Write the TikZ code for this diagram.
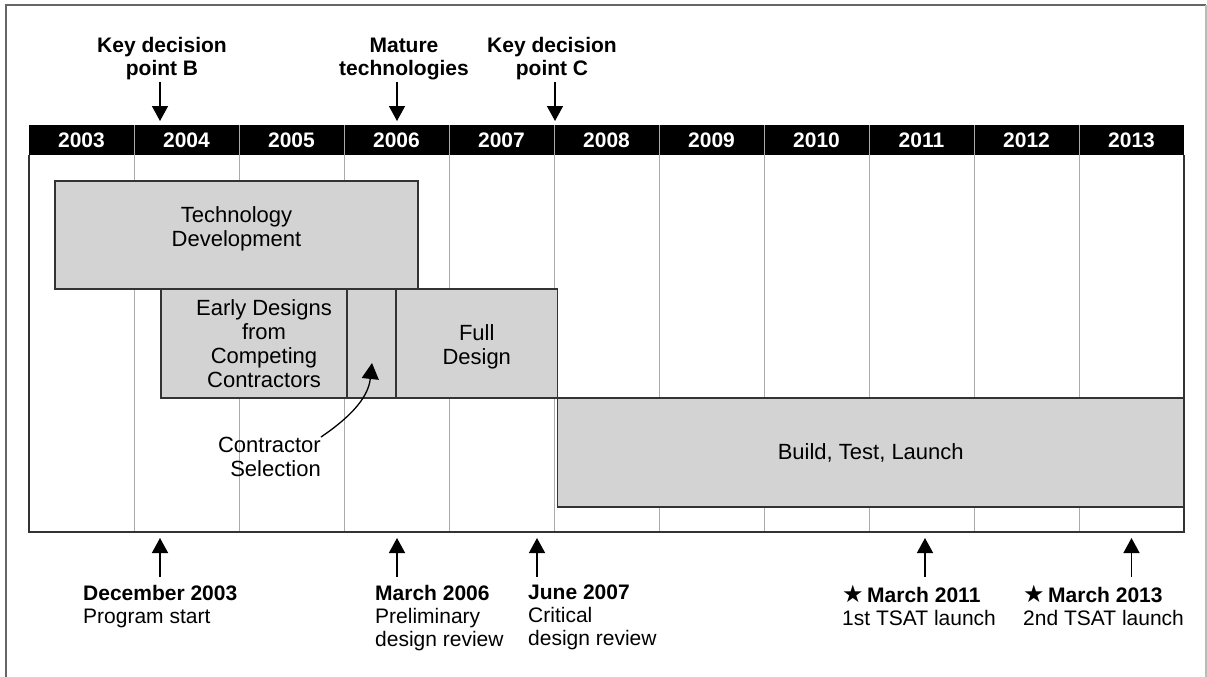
\documentclass[tikz,border=0pt]{standalone}
\usepackage{fontspec}
\setmainfont{Liberation Sans}
\newfontfamily\symfont{DejaVu Sans}
\usetikzlibrary{arrows.meta}
\definecolor{boxfill}{HTML}{D3D3D3}
\definecolor{boxline}{HTML}{333333}
\definecolor{gridcol}{HTML}{ABABAB}
\definecolor{framedark}{HTML}{666666}
\definecolor{framelight}{HTML}{BBBBBB}
\begin{document}
\begin{tikzpicture}[x=1pt,y=-1pt,
  yearcell/.style={fill=black, draw=none, text=white, inner sep=0pt, outer sep=0pt,
    minimum width=105pt, minimum height=30pt, font=\bfseries\fontsize{21}{23}\selectfont},
  gridline/.style={draw=gridcol, line width=1pt},
  chartframe/.style={draw=boxline, line width=1.5pt},
  phasebox/.style={draw=boxline, fill=boxfill, line width=1.2pt, inner sep=0pt, outer sep=0pt,
    anchor=north west, align=center, font=\fontsize{22}{24}\selectfont},
  toplbl/.style={anchor=south, align=center, inner sep=0pt, font=\bfseries\fontsize{21}{23}\selectfont},
  botlbl/.style={anchor=north west, align=left, inner sep=0pt, font=\fontsize{21}{23}\selectfont},
  plainlbl/.style={inner sep=0pt, font=\fontsize{22}{24}\selectfont},
  arr/.style={draw=black, line width=1.5pt, -{Triangle[length=15pt,width=16pt]}},
  curvearr/.style={draw=black, line width=1.3pt, -{Triangle[length=16pt,width=17pt]}}
]
\useasboundingbox (0,0) rectangle (1207,677);

% outer frame
\draw[framedark, line width=2pt] (6,677) -- (6,5) -- (1206,5);
\draw[framelight, line width=1.5pt] (1206,5) -- (1206,677);

% year bar
\foreach \yr [count=\i from 0] in {2003,2004,2005,2006,2007,2008,2009,2010,2011,2012,2013}
  \node[yearcell] (y\yr) at ({29+105*\i+52.5},140) {\yr};

% grid lines
\foreach \i in {1,...,10}
  \draw[gridline] ({29+105*\i},125) -- ({29+105*\i},532);

% chart frame
\draw[chartframe] (29,155) -- (29,532) -- (1184,532) -- (1184,155);

% phases
\node[phasebox, minimum width=363pt, minimum height=108pt,
  label={[plainlbl, align=center, yshift=6pt]center:Technology\\Development}] (td) at (55,181) {};
\node[phasebox, minimum width=186pt, minimum height=109pt,
  label={[plainlbl, align=center, xshift=10pt]center:Early Designs\\from\\Competing\\Contractors}] (ed) at (161,289) {};
\node[phasebox, minimum width=49pt, minimum height=109pt] (sel) at (347,289) {};
\node[phasebox, minimum width=161.5pt, minimum height=109pt,
  label={[plainlbl, align=center, yshift=-3pt]center:Full\\Design}] (fd) at (396,289) {};
\node[phasebox, minimum width=626.5pt, minimum height=109pt] (btl) at (557.5,398) {Build, Test, Launch};

% contractor selection
\node[plainlbl, anchor=east, align=right] (cs) at (321,457) {Contractor\\Selection};
\coordinate (seltip) at (372,363);
\draw[curvearr] (cs.north east) .. controls (346,420) and (368,400) .. (seltip);

% top milestones
\node[toplbl] (kdb) at (162,80) {Key decision\\point B};
\node[toplbl] (mat) at (404,80) {Mature\\technologies};
\node[toplbl] (kdc) at (552,80) {Key decision\\point C};
\coordinate (kdbs) at (160,82); \coordinate (kdbt) at (160,121);
\coordinate (mats) at (397,82); \coordinate (matt) at (397,121);
\coordinate (kdcs) at (555,82); \coordinate (kdct) at (555,121);
\draw[arr] (kdbs) -- (kdbt);
\draw[arr] (mats) -- (matt);
\draw[arr] (kdcs) -- (kdct);

% bottom milestones
\node[botlbl] (dec03) at (83,585) {\textbf{December 2003}\\Program start};
\node[botlbl] (mar06) at (375,585) {\textbf{March 2006}\\Preliminary\\design review};
\node[botlbl] (jun07) at (528,585) {\textbf{June 2007}\\Critical\\design review};
\node[botlbl] (mar11) at (842,585) {\textbf{{\symfont\fontsize{24}{23}\selectfont ★}\,March 2011}\\1st TSAT launch};
\node[botlbl] (mar13) at (1023,585) {\textbf{{\symfont\fontsize{24}{23}\selectfont ★}\,March 2013}\\2nd TSAT launch};
\foreach \n/\x in {dec03/160, mar06/397, jun07/537, mar11/925, mar13/1131.5} {
  \coordinate (\n s) at (\x,577);
  \coordinate (\n t) at (\x,538);
  \draw[arr] (\n s) -- (\n t);
}
\end{tikzpicture}
\end{document}
